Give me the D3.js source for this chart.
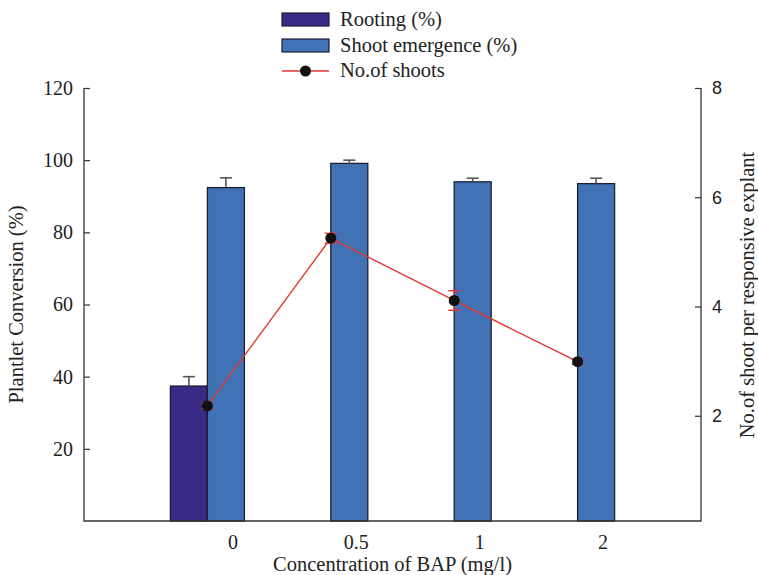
<!DOCTYPE html>
<html>
<head>
<meta charset="utf-8">
<script src="https://cdn.jsdelivr.net/npm/d3@7"></script>
<style>
  body { margin: 0; background: #fff; }
  text { font-family: "Liberation Serif", Tinos, "Nimbus Roman", "DejaVu Serif", serif; fill: #222; }
</style>
</head>
<body>
<script>
const width = 758;
const height = 575;

// data
var categories = ["0", "0.5", "1", "2"];
var rooting = [37.4, null, null, null];
var rootingErr = [2.6, null, null, null];
var shoot = [92.4, 99.1, 94.0, 93.5];
var shootErr = [2.7, 0.9, 1.0, 1.5];
var shoots = [2.18, 5.25, 4.11, 2.99];
var shootsErr = [0.05, 0.09, 0.18, 0.05];
var leftTicks = [20, 40, 60, 80, 100, 120];
var rightTicks = [2, 4, 6, 8];

var plot = { left: 84, right: 701, top: 88, bottom: 521 };
var barW = 37;
var serif = "'Liberation Serif', Tinos, 'Nimbus Roman', 'DejaVu Serif', serif";

var svg = d3.select("body")
 .append("svg")
 .attr("width", width)
 .attr("height", height);

//Scales

var xscale = d3.scalePoint()
 .domain(categories)
 .range([plot.left, plot.right])
 .padding(1);

var xsub = d3.scaleBand()
 .domain(["rooting", "shoot"])
 .range([-barW, barW]);

var yscale = d3.scaleLinear()
 .domain([0, 120])
 .range([plot.bottom, plot.top]);

var y2scale = d3.scaleLinear()
 .domain([0, 8])
 .range([525, plot.top]);

//Bars

var barData = [];
categories.forEach(function(c, i) {
  if (rooting[i] != null) barData.push({ cat: c, key: "rooting", v: rooting[i], e: rootingErr[i], fill: "#392a85" });
  barData.push({ cat: c, key: "shoot", v: shoot[i], e: shootErr[i], fill: "#4272b6" });
});

svg.append("g").selectAll("rect")
 .data(barData)
 .enter().append("rect")
 .attr("x", d => xscale(d.cat) + xsub(d.key))
 .attr("y", d => yscale(d.v))
 .attr("width", xsub.bandwidth())
 .attr("height", d => yscale(0) - yscale(d.v))
 .attr("fill", d => d.fill)
 .attr("stroke", "#1b1f33")
 .attr("stroke-width", 1.3);

//Error bars on the bars (upper half only)

var eb = svg.append("g").attr("stroke", "#555").attr("stroke-width", 1.6);
barData.forEach(function(d) {
  var cx = xscale(d.cat) + xsub(d.key) + xsub.bandwidth() / 2;
  eb.append("line").attr("x1", cx).attr("x2", cx)
   .attr("y1", yscale(d.v)).attr("y2", yscale(d.v + d.e));
  eb.append("line").attr("x1", cx - 6).attr("x2", cx + 6)
   .attr("y1", yscale(d.v + d.e)).attr("y2", yscale(d.v + d.e));
});

//Line series on the right axis

var line = d3.line()
 .x((d, i) => xscale(categories[i]))
 .y(d => y2scale(d));

svg.append("path")
 .datum(shoots)
 .attr("d", line)
 .attr("fill", "none")
 .attr("stroke", "#e0392e")
 .attr("stroke-width", 1.4);

var leb = svg.append("g").attr("stroke", "#e0392e").attr("stroke-width", 1.4);
shoots.forEach(function(v, i) {
  var cx = xscale(categories[i]);
  var e = shootsErr[i];
  leb.append("line").attr("x1", cx).attr("x2", cx).attr("y1", y2scale(v - e)).attr("y2", y2scale(v + e));
  [v - e, v + e].forEach(function(t) {
    leb.append("line").attr("x1", cx - 6).attr("x2", cx + 6).attr("y1", y2scale(t)).attr("y2", y2scale(t));
  });
});

svg.append("g").selectAll("circle")
 .data(shoots)
 .enter().append("circle")
 .attr("cx", (d, i) => xscale(categories[i]))
 .attr("cy", d => y2scale(d))
 .attr("r", 5.5)
 .attr("fill", "#111");

//Axes

var y_axis = d3.axisLeft(yscale)
 .tickValues(leftTicks)
 .tickSizeInner(-6)
 .tickSizeOuter(0)
 .tickPadding(11);

var gl = svg.append("g")
 .attr("transform", "translate(" + plot.left + ",0)")
 .call(y_axis);
gl.select(".domain").remove();
gl.selectAll("line").attr("stroke", "#333").attr("stroke-width", 1.2);
gl.selectAll("text").style("font-family", serif).style("font-size", "20px").attr("fill", "#222");

var y_right = d3.axisRight(y2scale)
 .tickValues(rightTicks)
 .tickSizeInner(-6)
 .tickSizeOuter(0)
 .tickPadding(11);

var gr = svg.append("g")
 .attr("transform", "translate(" + plot.right + ",0)")
 .call(y_right);
gr.select(".domain").remove();
gr.selectAll("line").attr("stroke", "#333").attr("stroke-width", 1.2);
gr.selectAll("text").style("font-family", "'Liberation Sans', Arial, sans-serif").style("font-size", "18px").attr("fill", "#222");

//Category labels sit a little right of the group centres, as in the original

var x_axis = d3.axisBottom(xscale)
 .tickSize(0)
 .tickPadding(14);

var gx = svg.append("g")
 .attr("transform", "translate(25," + plot.bottom + ")")
 .call(x_axis);
gx.select(".domain").remove();
gx.selectAll("text").style("font-family", serif).style("font-size", "20px").attr("fill", "#222");

//Frame lines: left, right and bottom

var frame = svg.append("g").attr("stroke", "#333").attr("stroke-width", 1.3).attr("fill", "none");
frame.append("path").attr("d",
  "M" + plot.left + "," + plot.top + "V" + plot.bottom + "H" + plot.right + "V" + plot.top);

//Axis titles

svg.append("text")
 .attr("x", (plot.left + plot.right) / 2)
 .attr("y", 571)
 .attr("text-anchor", "middle")
 .style("font-size", "20.5px")
 .text("Concentration of BAP (mg/l)");

svg.append("text")
 .attr("transform", "translate(23," + (plot.top + plot.bottom) / 2 + ") rotate(-90)")
 .attr("text-anchor", "middle")
 .style("font-size", "20.5px")
 .text("Plantlet Conversion (%)");

svg.append("text")
 .attr("transform", "translate(754,295) rotate(-90)")
 .attr("text-anchor", "middle")
 .style("font-size", "20.5px")
 .text("No.of shoot per responsive explant");

//Legend

var legend = svg.append("g").attr("transform", "translate(282,0)");
legend.append("rect").attr("x", 0).attr("y", 13).attr("width", 47).attr("height", 13)
 .attr("fill", "#392a85").attr("stroke", "#1b1f33").attr("stroke-width", 1.2);
legend.append("rect").attr("x", 0).attr("y", 39).attr("width", 47).attr("height", 13)
 .attr("fill", "#4272b6").attr("stroke", "#1b1f33").attr("stroke-width", 1.2);
legend.append("line").attr("x1", 0).attr("x2", 47).attr("y1", 71).attr("y2", 71)
 .attr("stroke", "#e0392e").attr("stroke-width", 1.4);
legend.append("circle").attr("cx", 23.5).attr("cy", 71).attr("r", 5.5).attr("fill", "#111");

var legendLabels = ["Rooting (%)", "Shoot emergence (%)", "No.of shoots"];
legend.selectAll("text.lab")
 .data(legendLabels)
 .enter().append("text")
 .attr("class", "lab")
 .attr("x", 58)
 .attr("y", (d, i) => 26 + i * 25.5)
 .style("font-size", "20.5px")
 .text(d => d);
</script>
</body>
</html>
